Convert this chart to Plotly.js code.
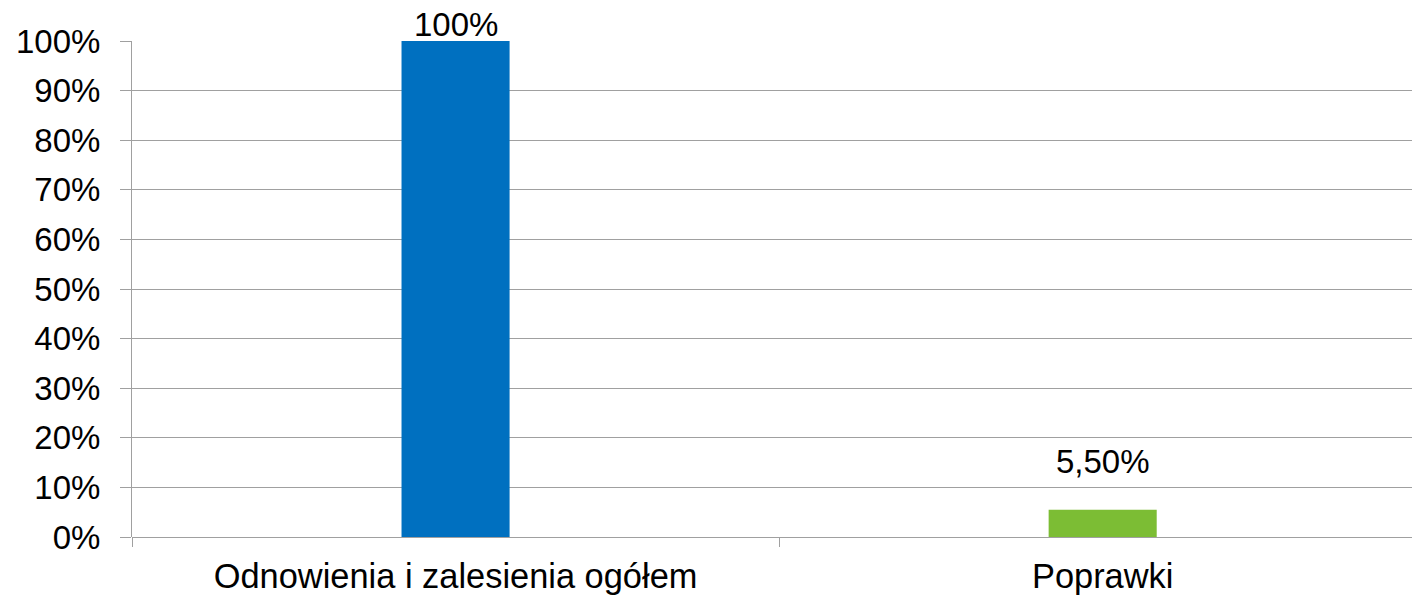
<!DOCTYPE html>
<html>
<head>
<meta charset="utf-8">
<script src="https://cdn.plot.ly/plotly-3.0.1.min.js"></script>
<style>html,body{margin:0;padding:0;overflow:hidden;background:#fff;}#chart{width:1412px;height:595px;}</style>
</head>
<body>
<div id="chart"></div>
<script>
var categories = ["Odnowienia i zalesienia ogółem", "Poprawki"];
var values = [100, 5.5];
var valueLabels = ["100%", "5,50%"];
var barColors = ["#0070C0", "#7CBD34"];
var yTickVals = [0, 10, 20, 30, 40, 50, 60, 70, 80, 90, 100];
var yTickText = ["0%", "10%", "20%", "30%", "40%", "50%", "60%", "70%", "80%", "90%", "100%"];
var labelShift = [-4, 28];

var font = "Liberation Sans, Arial, sans-serif";
var gray = "#A0A0A0";

var trace = {
  type: "bar",
  x: categories,
  y: values,
  width: 0.167,
  marker: {color: barColors, line: {width: 0}},
  hoverinfo: "none",
  cliponaxis: false
};

var annotations = categories.map(function (c, i) {
  return {
    x: c, y: values[i], xref: "x", yref: "y",
    text: valueLabels[i], showarrow: false,
    yanchor: "bottom", xanchor: "center", yshift: labelShift[i],
    font: {family: font, size: 33, color: "#000"}
  };
});

var layout = {
  width: 1412, height: 595,
  margin: {l: 132, r: 0, t: 41, b: 58},
  paper_bgcolor: "#fff", plot_bgcolor: "#fff",
  showlegend: false,
  font: {family: font, color: "#000"},
  xaxis: {
    type: "category",
    range: [-0.5, 1.478],
    tickson: "boundaries",
    ticks: "outside", ticklen: 9, tickcolor: gray, tickwidth: 1,
    showgrid: false, showline: false, zeroline: false,
    tickfont: {family: font, size: 34.4, color: "#000"},
    ticklabelstandoff: 16,
    fixedrange: true
  },
  yaxis: {
    range: [0, 100],
    tickmode: "array",
    tickvals: yTickVals,
    ticktext: yTickText,
    ticks: "outside", ticklen: 11, tickcolor: gray, tickwidth: 1,
    showgrid: true, gridcolor: gray, gridwidth: 1,
    showline: true, linecolor: gray, linewidth: 1,
    zeroline: true, zerolinecolor: gray, zerolinewidth: 1,
    tickfont: {family: font, size: 33, color: "#000"},
    ticklabelstandoff: 13,
    fixedrange: true
  },
  annotations: annotations
};

Plotly.newPlot("chart", [trace], layout, {displayModeBar: false, staticPlot: true});
</script>
</body>
</html>
